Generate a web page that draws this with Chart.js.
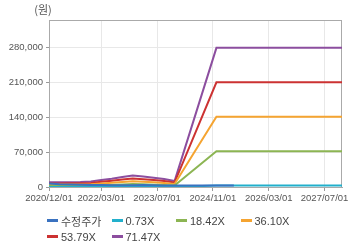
<!DOCTYPE html>
<html>
<head>
<meta charset="utf-8">
<script src="https://cdn.jsdelivr.net/npm/chart.js@4.4.1/dist/chart.umd.min.js"></script>
<style>
  html, body { margin: 0; padding: 0; background: #fff; }
  #wrap { position: relative; width: 360px; height: 248px; }
  #legend { position: absolute; left: 47px; top: 213px; width: 300px;
            display: grid; grid-template-columns: repeat(4, 64.5px); row-gap: 1px;
            font: 11px "Liberation Sans", "Noto Sans CJK KR", sans-serif; color: #444; }
  #legend .item { display: flex; align-items: center; height: 15px; white-space: nowrap; }
  #legend .mark { width: 11px; height: 3px; margin-right: 3px; }
</style>
</head>
<body>
<div id="wrap">
  <canvas id="perChart" width="360" height="248"></canvas>
  <div id="legend"></div>
</div>
<script>
// axis tick labels
const xTickLabels = ['2020/12/01', '2022/03/01', '2023/07/01', '2024/11/01', '2026/03/01', '2027/07/01'];
const yTickValues = [0, 70000, 140000, 210000, 280000];

// band dates (quarterly, then flat to the end)
const bandDates = ['2020/12', '2021/03', '2021/06', '2021/09', '2021/12', '2022/03', '2022/06', '2022/09',
                   '2022/12', '2023/03', '2023/06', '2023/09', '2023/12', '2024/12', '2027/12'];

const band073 = [97, 97, 100, 102, 112, 143, 168, 204, 235, 214, 189, 163, 123, 2860, 2860];
const band1842 = [2450, 2450, 2530, 2580, 2830, 3610, 4250, 5150, 5930, 5410, 4770, 4120, 3090, 72160, 72160];
const band3610 = [4800, 4800, 4950, 5050, 5560, 7070, 8330, 10100, 11620, 10610, 9340, 8080, 6060, 141430, 141430];
const band5379 = [7150, 7150, 7380, 7530, 8280, 10540, 12420, 15050, 17310, 15800, 13920, 12040, 9030, 210730, 210730];
const band7147 = [9500, 9500, 9800, 10000, 11000, 14000, 16500, 20000, 23000, 21000, 18500, 16000, 12000, 280000, 280000];

// adjusted price
const priceDates = ['2020/12', '2021/03', '2021/06', '2021/09', '2021/12', '2022/03', '2022/06', '2022/09', '2022/12',
                    '2023/03', '2023/06', '2023/09', '2023/12', '2024/03', '2024/06', '2024/09', '2024/12', '2025/03', '2025/05'];
const priceValues = [7000, 5500, 5000, 4500, 4000, 4000, 3500, 3500, 3500,
                     4000, 3500, 3000, 3000, 3000, 3000, 3000, 3000, 2900, 2900];

const seriesNames = ['수정주가', '0.73X', '18.42X', '36.10X', '53.79X', '71.47X'];
const seriesColors = ['#3a72c0', '#22b0cc', '#8cb553', '#f5a431', '#cc3232', '#8c4e9f'];

// months since 2020/12
function monthIndex(s) {
    const p = s.split('/');
    return (parseInt(p[0], 10) - 2020) * 12 + (parseInt(p[1], 10) - 12);
}

function toPoints(dates, values) {
    return dates.map((d, i) => ({ x: monthIndex(d), y: values[i] }));
}

const seriesData = [
    toPoints(priceDates, priceValues),
    toPoints(bandDates, band073),
    toPoints(bandDates, band1842),
    toPoints(bandDates, band3610),
    toPoints(bandDates, band5379),
    toPoints(bandDates, band7147)
];

const tickFont = { family: '"Liberation Sans", Arial, sans-serif', size: 9.5 };

// box around the plot + unit label
const framePlugin = {
    id: 'frame',
    beforeDatasetsDraw(chart) {
        const a = chart.chartArea;
        const ctx = chart.ctx;
        ctx.save();
        ctx.strokeStyle = '#aaaaaa';
        ctx.lineWidth = 1;
        ctx.strokeRect(Math.round(a.left) + 0.5, Math.round(a.top) + 0.5,
                       Math.round(a.right - a.left) - 1, Math.round(a.bottom - a.top));
        ctx.fillStyle = '#555';
        ctx.font = '11px "Noto Sans CJK KR", sans-serif';
        ctx.textAlign = 'center';
        ctx.textBaseline = 'middle';
        ctx.fillText('(원)', a.left - 6, 10);
        ctx.restore();
    }
};

const ctx = document.getElementById('perChart').getContext('2d');
new Chart(ctx, {
    type: 'line',
    data: {
        datasets: seriesData.map((pts, i) => ({
            label: seriesNames[i],
            data: pts,
            borderColor: seriesColors[i],
            backgroundColor: seriesColors[i],
            borderWidth: 2,
            pointRadius: 0,
            tension: 0,
            fill: false
        }))
    },
    options: {
        responsive: false,
        animation: false,
        layout: { padding: { top: 20, right: 18, bottom: 0, left: 0 } },
        plugins: {
            legend: { display: false },
            tooltip: { enabled: false }
        },
        scales: {
            x: {
                type: 'linear',
                min: 0,
                max: 84,
                afterBuildTicks: function(scale) {
                    scale.ticks = xTickLabels.map(l => ({ value: monthIndex(l.slice(0, 7)) }));
                },
                afterFit: function(scale) { scale.height = 61; },
                ticks: {
                    autoSkip: false,
                    maxRotation: 0,
                    color: '#555',
                    font: tickFont,
                    padding: 2,
                    callback: function(value) {
                        const l = xTickLabels.find(t => monthIndex(t.slice(0, 7)) === value);
                        return l || '';
                    }
                },
                grid: { color: '#e8e8e8', tickColor: '#999', tickLength: 4 },
                border: { color: '#aaaaaa' }
            },
            y: {
                min: 0,
                max: 336000,
                afterBuildTicks: function(scale) {
                    scale.ticks = yTickValues.map(v => ({ value: v }));
                },
                afterFit: function(scale) { scale.width = 49; },
                ticks: {
                    color: '#555',
                    font: tickFont,
                    padding: 3,
                    callback: function(value) {
                        return value.toLocaleString('en-US');
                    }
                },
                grid: { color: '#e8e8e8', tickColor: '#999', tickLength: 3 },
                border: { color: '#aaaaaa' }
            }
        }
    },
    plugins: [framePlugin]
});

// HTML legend laid out as a grid
const legend = document.getElementById('legend');
legend.innerHTML = seriesNames.map((name, i) => `
    <div class="item"><span class="mark" style="background:${seriesColors[i]}"></span>${name}</div>
`).join('');
</script>
</body>
</html>
